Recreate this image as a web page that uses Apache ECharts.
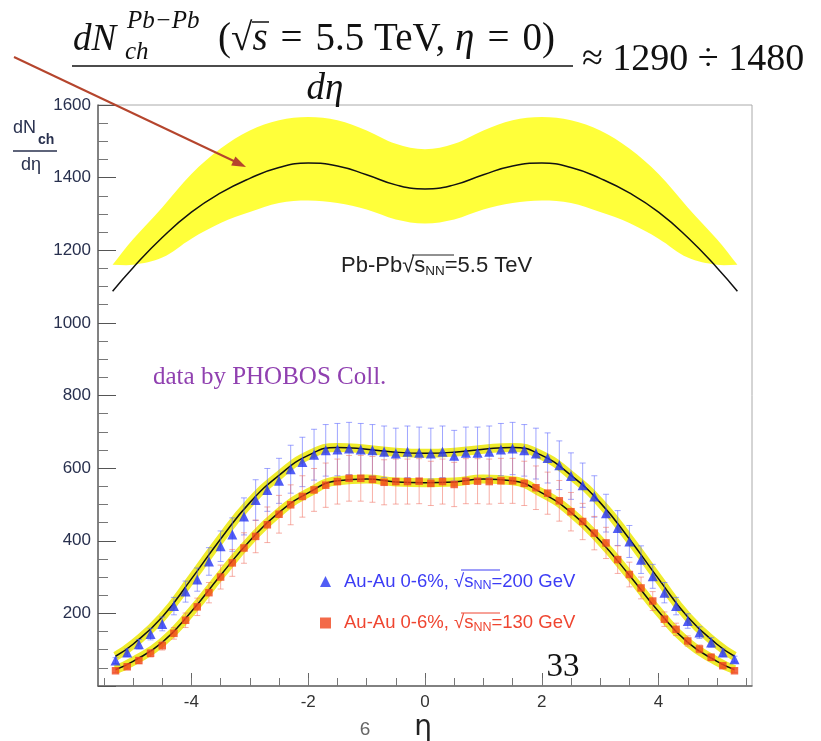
<!DOCTYPE html>
<html>
<head>
<meta charset="utf-8">
<script src="https://cdn.jsdelivr.net/npm/echarts@6/dist/echarts.min.js"></script>
<style>
  html, body { margin: 0; padding: 0; background: #fff; }
  #main { width: 821px; height: 741px; }
</style>
</head>
<body>
<div id="main"></div>
<script>
// --- data ---
// Pb-Pb 5.5 TeV prediction (central line and yellow band)
var etaPb     = [-5.35, -5, -4.5, -4, -3.5, -3, -2.5, -2, -1.5, -1, -0.5, 0, 0.5, 1, 1.5, 2, 2.5, 3, 3.5, 4, 4.5, 5, 5.35];
var pbCentral = [1087, 1152, 1235, 1305, 1358, 1398, 1428, 1440, 1432, 1408, 1380, 1369, 1380, 1408, 1432, 1440, 1428, 1398, 1358, 1305, 1235, 1152, 1087];
var pbUpper   = [1160, 1230, 1318, 1410, 1480, 1530, 1558, 1567, 1558, 1530, 1493, 1478, 1493, 1530, 1558, 1567, 1558, 1530, 1480, 1410, 1318, 1230, 1160];
var pbLower   = [1160, 1160, 1180, 1232, 1275, 1305, 1330, 1337, 1330, 1312, 1285, 1274, 1285, 1312, 1330, 1337, 1330, 1305, 1275, 1232, 1180, 1160, 1160];

// PHOBOS points
var etaData = [-5.3, -5.1, -4.9, -4.7, -4.5, -4.3, -4.1, -3.9, -3.7, -3.5, -3.3, -3.1, -2.9, -2.7, -2.5, -2.3, -2.1, -1.9, -1.7, -1.5, -1.3, -1.1, -0.9, -0.7, -0.5, -0.3, -0.1,
               0.1, 0.3, 0.5, 0.7, 0.9, 1.1, 1.3, 1.5, 1.7, 1.9, 2.1, 2.3, 2.5, 2.7, 2.9, 3.1, 3.3, 3.5, 3.7, 3.9, 4.1, 4.3, 4.5, 4.7, 4.9, 5.1, 5.3];
var au200 = [70, 92, 115, 143, 171, 220, 260, 293, 343, 385, 417, 467, 512, 540, 565, 597, 617, 637, 649, 651, 654, 651, 649, 645, 640, 645, 642,
             640, 645, 634, 642, 642, 645, 651, 654, 649, 640, 628, 608, 578, 553, 522, 476, 435, 398, 348, 302, 257, 220, 179, 147, 120, 92, 74];
var au200Err = [8, 10, 13, 16, 19, 24, 29, 32, 38, 42, 46, 51, 56, 59, 62, 66, 68, 70, 71, 72, 72, 72, 71, 71, 70, 71, 71,
                70, 71, 70, 71, 71, 71, 72, 72, 71, 70, 69, 67, 64, 61, 57, 52, 48, 44, 38, 33, 28, 24, 20, 16, 13, 10, 8];
var au130 = [42, 53, 70, 90, 111, 145, 181, 218, 257, 300, 339, 380, 412, 444, 473, 499, 522, 540, 553, 563, 572, 572, 569, 561, 563, 563, 564,
             558, 563, 555, 564, 564, 563, 565, 565, 558, 546, 531, 510, 480, 453, 421, 394, 348, 307, 270, 234, 184, 156, 124, 102, 79, 56, 42];
var au130Err = [5, 6, 8, 10, 12, 16, 20, 24, 28, 33, 37, 42, 45, 49, 52, 55, 57, 59, 61, 62, 63, 63, 63, 62, 62, 62, 62,
                61, 62, 61, 62, 62, 62, 62, 62, 61, 60, 58, 56, 53, 50, 46, 43, 38, 34, 30, 26, 20, 17, 14, 11, 9, 6, 5];

// fit curves through the PHOBOS points
var etaFit   = [-5.3, -5, -4.5, -4, -3.5, -3, -2.5, -2, -1.5, -1, -0.5, 0, 0.5, 1, 1.5, 2, 2.5, 3, 3.5, 4, 4.5, 5, 5.3];
var au200Fit = [82, 115, 190, 295, 405, 505, 580, 635, 657, 652, 644, 641, 644, 652, 657, 635, 580, 505, 405, 295, 190, 115, 82];
var au130Fit = [45, 68, 120, 205, 305, 400, 478, 532, 565, 570, 562, 560, 562, 570, 565, 532, 478, 400, 305, 205, 120, 68, 45];

// axis ticks
var xLabels = [-4, -2, 0, 2, 4];
var xMinor  = [-5.5, -5, -4.5, -4, -3.5, -3, -2.5, -2, -1.5, -1, -0.5, 0, 0.5, 1, 1.5, 2, 2.5, 3, 3.5, 4, 4.5, 5, 5.5];

var name200 = 'Au-Au 0-6%, 200 GeV';
var name130 = 'Au-Au 0-6%, 130 GeV';

var SANS = '"Liberation Sans", Arial, sans-serif';
var SERIF = '"Liberation Serif", "Times New Roman", serif';
var SP = '\u2004'; // a slightly wider space, like TeX's thick space

function pairs(xs, ys) {
  return xs.map(function (x, i) { return [x, ys[i]]; });
}
function errData(xs, ys, es) {
  return xs.map(function (x, i) { return [x, ys[i] - es[i], ys[i] + es[i]]; });
}
function errBar(color) {
  return function (params, api) {
    var lo = api.coord([api.value(0), api.value(1)]);
    var hi = api.coord([api.value(0), api.value(2)]);
    var w = 3;
    var st = { stroke: color, lineWidth: 1 };
    return {
      type: 'group',
      children: [
        { type: 'line', shape: { x1: lo[0], y1: lo[1], x2: hi[0], y2: hi[1] }, style: st },
        { type: 'line', shape: { x1: lo[0] - w, y1: lo[1], x2: lo[0] + w, y2: lo[1] }, style: st },
        { type: 'line', shape: { x1: hi[0] - w, y1: hi[1], x2: hi[0] + w, y2: hi[1] }, style: st }
      ]
    };
  };
}

var chart = echarts.init(document.getElementById('main'));

var option = {
  backgroundColor: '#fff',
  animation: false,
  grid: {
    left: 98, right: 69, top: 105, bottom: 55,
    show: true, borderColor: '#aaaaaa', borderWidth: 1
  },
  xAxis: [
    {
      type: 'value', min: -5.6, max: 5.6,
      axisLine: { onZero: false, lineStyle: { color: '#666', width: 1.5 } },
      splitLine: { show: false },
      axisTick: { inside: true, length: 13, customValues: xLabels, lineStyle: { color: '#666' } },
      axisLabel: { customValues: xLabels, margin: 8, color: '#333', fontFamily: SANS, fontSize: 17 }
    },
    {
      type: 'value', min: -5.6, max: 5.6, position: 'bottom',
      axisLine: { show: false, onZero: false },
      splitLine: { show: false },
      axisTick: { inside: true, length: 8, customValues: xMinor, lineStyle: { color: '#777' } },
      axisLabel: { show: false }
    }
  ],
  yAxis: {
    type: 'value', min: 0, max: 1600, interval: 200,
    axisLine: { show: true, onZero: false, lineStyle: { color: '#666', width: 1.5 } },
    splitLine: { show: false },
    axisTick: { inside: true, length: 18, lineStyle: { color: '#555' } },
    minorTick: { show: true, splitNumber: 4, length: 10, lineStyle: { color: '#777' } },
    axisLabel: {
      margin: 7, color: '#28304e', fontFamily: SANS, fontSize: 17,
      formatter: function (v) { return v === 0 ? '' : v; }
    }
  },
  legend: {
    orient: 'vertical', left: 315, top: 567, itemGap: 21,
    itemWidth: 11, itemHeight: 11,
    data: [
      { name: name200, icon: 'triangle' },
      { name: name130, icon: 'rect' }
    ],
    formatter: function (name) {
      if (name === name200) return '{b|Au-Au 0-6%, \u221As}{bs|NN}{b|=200 GeV}';
      return '{r|Au-Au 0-6%, \u221As}{rs|NN}{r|=130 GeV}';
    },
    textStyle: {
      padding: [0, 0, 0, 8],
      rich: {
        b:  { color: '#3c3cf5', fontFamily: SANS, fontSize: 18.5, lineHeight: 22 },
        bs: { color: '#3c3cf5', fontFamily: SANS, fontSize: 12.5, lineHeight: 22, verticalAlign: 'bottom' },
        r:  { color: '#ef4530', fontFamily: SANS, fontSize: 18.5, lineHeight: 22 },
        rs: { color: '#ef4530', fontFamily: SANS, fontSize: 12.5, lineHeight: 22, verticalAlign: 'bottom' }
      }
    }
  },
  series: [
    {
      name: 'Pb-Pb band', type: 'custom', clip: true, silent: true, z: 1,
      data: [[0, 1400]],
      renderItem: function (params, api) {
        var pts = [];
        for (var i = 0; i < etaPb.length; i++) pts.push(api.coord([etaPb[i], pbUpper[i]]));
        for (var j = etaPb.length - 1; j >= 0; j--) pts.push(api.coord([etaPb[j], pbLower[j]]));
        return { type: 'polygon', shape: { points: pts, smooth: 0.35 }, style: { fill: '#ffff3a' } };
      }
    },
    {
      name: 'Pb-Pb', type: 'line', smooth: true, symbol: 'none', z: 2,
      data: pairs(etaPb, pbCentral),
      lineStyle: { color: '#111', width: 1.5 }
    },
    {
      name: 'fit200 band', type: 'line', smooth: true, symbol: 'none', z: 2,
      data: pairs(etaFit, au200Fit),
      lineStyle: { color: '#efeb2c', width: 9 }
    },
    {
      name: 'fit130 band', type: 'line', smooth: true, symbol: 'none', z: 2,
      data: pairs(etaFit, au130Fit),
      lineStyle: { color: '#efeb2c', width: 9 }
    },
    {
      name: 'fit200', type: 'line', smooth: true, symbol: 'none', z: 3,
      data: pairs(etaFit, au200Fit),
      lineStyle: { color: '#111', width: 1.5 }
    },
    {
      name: 'fit130', type: 'line', smooth: true, symbol: 'none', z: 3,
      data: pairs(etaFit, au130Fit),
      lineStyle: { color: '#111', width: 1.5 }
    },
    {
      name: 'err200', type: 'custom', silent: true, z: 4,
      encode: { x: 0, y: [1, 2] },
      data: errData(etaData, au200, au200Err),
      renderItem: errBar('rgba(95,105,255,0.6)')
    },
    {
      name: 'err130', type: 'custom', silent: true, z: 4,
      encode: { x: 0, y: [1, 2] },
      data: errData(etaData, au130, au130Err),
      renderItem: errBar('rgba(240,110,95,0.55)')
    },
    {
      name: name200, type: 'scatter', symbol: 'triangle', symbolSize: 10, z: 6,
      data: pairs(etaData, au200),
      itemStyle: { color: '#2535f2' }
    },
    {
      name: name130, type: 'scatter', symbol: 'rect', symbolSize: 7.5, z: 6,
      data: pairs(etaData, au130),
      itemStyle: { color: '#f0451c' }
    }
  ],
  graphic: [
    // formula at the top
    { type: 'text', z: 100, x: 73, y: 40, style: { text: 'dN', font: 'italic 37px ' + SERIF, fill: '#111', verticalAlign: 'middle' } },
    { type: 'text', z: 100, x: 127, y: 21, style: { text: 'Pb\u2212Pb', font: 'italic 25px ' + SERIF, fill: '#111', verticalAlign: 'middle' } },
    { type: 'text', z: 100, x: 125, y: 52, style: { text: 'ch', font: 'italic 25px ' + SERIF, fill: '#111', verticalAlign: 'middle' } },
    {
      type: 'text', z: 100, x: 218, y: 40,
      style: {
        text: '{r|(\u221A}{i|s}{r|' + SP + '=' + SP + '5.5 TeV, }{i|\u03B7}{r|' + SP + '=' + SP + '0)}', verticalAlign: 'middle',
        rich: {
          r: { font: '39px ' + SERIF, fill: '#111' },
          i: { font: 'italic 39px ' + SERIF, fill: '#111' }
        }
      }
    },
    { type: 'line', z: 100, shape: { x1: 252, y1: 22, x2: 269, y2: 22 }, style: { stroke: '#111', lineWidth: 1.5 } },
    { type: 'line', z: 100, shape: { x1: 72, y1: 66, x2: 573, y2: 66 }, style: { stroke: '#111', lineWidth: 1.5 } },
    { type: 'text', z: 100, x: 325, y: 89, style: { text: 'd\u03B7', font: 'italic 37px ' + SERIF, fill: '#111', align: 'center', verticalAlign: 'middle' } },
    { type: 'text', z: 100, x: 582, y: 60, style: { text: '\u2248 1290 \u00F7 1480', font: '38px ' + SERIF, fill: '#111', verticalAlign: 'middle' } },
    // red arrow
    { type: 'line', z: 100, shape: { x1: 14, y1: 57, x2: 238, y2: 163 }, style: { stroke: '#b5452d', lineWidth: 2 } },
    { type: 'polygon', z: 100, shape: { points: [[246, 167], [235.4, 156.5], [231.2, 165.5]] }, style: { fill: '#b5452d' } },
    // y axis title
    { type: 'text', z: 100, x: 13, y: 128, style: { text: 'dN', font: '18px ' + SANS, fill: '#28304e', verticalAlign: 'middle' } },
    { type: 'text', z: 100, x: 38, y: 140, style: { text: 'ch', font: 'bold 14px ' + SANS, fill: '#28304e', verticalAlign: 'middle' } },
    { type: 'line', z: 100, shape: { x1: 13, y1: 151, x2: 57, y2: 151 }, style: { stroke: '#28304e', lineWidth: 1.5 } },
    { type: 'text', z: 100, x: 21, y: 165, style: { text: 'd\u03B7', font: '18px ' + SANS, fill: '#28304e', verticalAlign: 'middle' } },
    // Pb-Pb label
    {
      type: 'text', z: 100, x: 341, y: 266,
      style: {
        text: '{a|Pb-Pb\u221As}{s|NN}{a|=5.5 TeV}', verticalAlign: 'middle',
        rich: {
          a: { font: '22px ' + SANS, fill: '#222', lineHeight: 24 },
          s: { font: '13.5px ' + SANS, fill: '#222', lineHeight: 24, verticalAlign: 'bottom' }
        }
      }
    },
    { type: 'line', z: 100, shape: { x1: 412, y1: 255, x2: 454, y2: 255 }, style: { stroke: '#222', lineWidth: 1 } },
    // overlines in the legend
    { type: 'line', z: 100, shape: { x1: 461, y1: 570, x2: 500, y2: 570 }, style: { stroke: '#3c3cf5', lineWidth: 1 } },
    { type: 'line', z: 100, shape: { x1: 461, y1: 613, x2: 500, y2: 613 }, style: { stroke: '#ef4530', lineWidth: 1 } },
    // other annotations
    { type: 'text', z: 100, x: 153, y: 377, style: { text: 'data by PHOBOS Coll.', font: '25px ' + SERIF, fill: '#9040b0', verticalAlign: 'middle' } },
    { type: 'text', z: 100, x: 563, y: 667, style: { text: '33', font: '33px ' + SERIF, fill: '#111', align: 'center', verticalAlign: 'middle' } },
    { type: 'text', z: 100, x: 365, y: 730, style: { text: '6', font: '19px ' + SANS, fill: '#666', align: 'center', verticalAlign: 'middle' } },
    { type: 'text', z: 100, x: 423, y: 728, style: { text: '\u03B7', font: '28px "DejaVu Sans", sans-serif', fill: '#222', align: 'center', verticalAlign: 'middle' } }
  ]
};

chart.setOption(option);
window.addEventListener('resize', function () { chart.resize(); });
</script>
</body>
</html>
